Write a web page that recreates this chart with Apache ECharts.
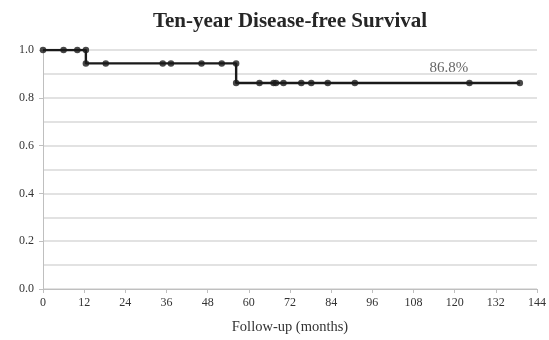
<!DOCTYPE html>
<html>
<head>
<meta charset="utf-8">
<script src="https://cdn.jsdelivr.net/npm/echarts@6/dist/echarts.min.js"></script>
<style>
  html, body { margin: 0; padding: 0; background: #fff; }
  #km { width: 549px; height: 340px; }
</style>
</head>
<body>
<div id="km"></div>
<script>
// curve data (months / survival)
var eventTimes = [12.5, 56.3];
var levels = [1.0, 0.944, 0.862];
var endTime = 139.0;
var censorTimes = [0, 6, 10, 18.3, 34.9, 37.3, 46.2, 52.1, 63.1, 67.2, 67.9, 70.1, 75.3, 78.2, 83.0, 90.9, 124.3, 139.0];
var xTicks = [0, 12, 24, 36, 48, 60, 72, 84, 96, 108, 120, 132, 144];
var finalLabel = '86.8%';
var labelAt = [118.3, 0.923];

function survAt(t) {
    var s = levels[0];
    for (var i = 0; i < eventTimes.length; i++) {
        if (t >= eventTimes[i]) s = levels[i + 1];
    }
    return s;
}

// step path
var stepData = [[0, levels[0]]];
for (var i = 0; i < eventTimes.length; i++) {
    stepData.push([eventTimes[i], levels[i]]);
    stepData.push([eventTimes[i], levels[i + 1]]);
}
stepData.push([endTime, levels[levels.length - 1]]);

// markers: censored points plus both corners of each drop
var marks = censorTimes.map(function (t) { return [t, survAt(t)]; });
for (var j = 0; j < eventTimes.length; j++) {
    marks.push([eventTimes[j], levels[j]]);
    marks.push([eventTimes[j], levels[j + 1]]);
}

var serif = '"Liberation Serif", "DejaVu Serif", serif';
var dom = document.getElementById('km');
var myChart = echarts.init(dom, null, { renderer: 'canvas' });

var option = {
    animation: false,
    title: {
        text: 'Ten-year Disease-free Survival',
        left: 285,
        top: 6,
        textAlign: 'center',
        textStyle: { fontFamily: serif, fontSize: 21, fontWeight: 'bold', color: '#262626' }
    },
    grid: { left: 43, right: 9, top: 50, bottom: 44 },
    xAxis: {
        type: 'value',
        min: 0,
        max: 144,
        interval: 12,
        name: 'Follow-up (months)',
        nameLocation: 'middle',
        nameGap: 31,
        nameTextStyle: { fontFamily: serif, fontSize: 14.5, color: '#333' },
        axisLine: { lineStyle: { color: '#bfbfbf', width: 1 } },
        axisTick: { show: true, length: 4, lineStyle: { color: '#bfbfbf' } },
        axisLabel: {
            margin: 8,
            fontFamily: serif, fontSize: 12, color: '#333',
            formatter: function (v) { return xTicks.indexOf(v) >= 0 ? String(v) : ''; }
        },
        splitLine: { show: false }
    },
    yAxis: [{
        type: 'value',
        min: 0,
        max: 1,
        interval: 0.2,
        axisLine: { show: true, lineStyle: { color: '#bfbfbf', width: 1 } },
        axisTick: { show: true, length: 4, lineStyle: { color: '#bfbfbf' } },
        axisLabel: {
            margin: 9,
            fontFamily: serif, fontSize: 12, color: '#333',
            formatter: function (v) { return v.toFixed(1); }
        },
        splitLine: { show: false }
    }, {
        type: 'value',
        min: 0,
        max: 1,
        interval: 0.1,
        position: 'left',
        axisLine: { show: false },
        axisTick: { show: false },
        axisLabel: { show: false },
        splitLine: { show: true, lineStyle: { color: '#d9d9d9', width: 1.5 } }
    }],
    series: [
        {
            type: 'line',
            data: stepData,
            yAxisIndex: 0,
            showSymbol: false,
            lineStyle: { color: '#1a1a1a', width: 2.4 },
            z: 3
        },
        {
            type: 'scatter',
            data: marks,
            yAxisIndex: 0,
            symbol: 'circle',
            symbolSize: 6.5,
            itemStyle: { color: '#1a1a1a' },
            z: 4
        },
        {
            type: 'scatter',
            data: [labelAt],
            yAxisIndex: 0,
            symbolSize: 0,
            label: {
                show: true,
                position: 'inside',
                formatter: finalLabel,
                fontFamily: serif, fontSize: 15, color: '#404040'
            }
        }
    ]
};

myChart.setOption(option);
window.addEventListener('resize', myChart.resize);
</script>
</body>
</html>
